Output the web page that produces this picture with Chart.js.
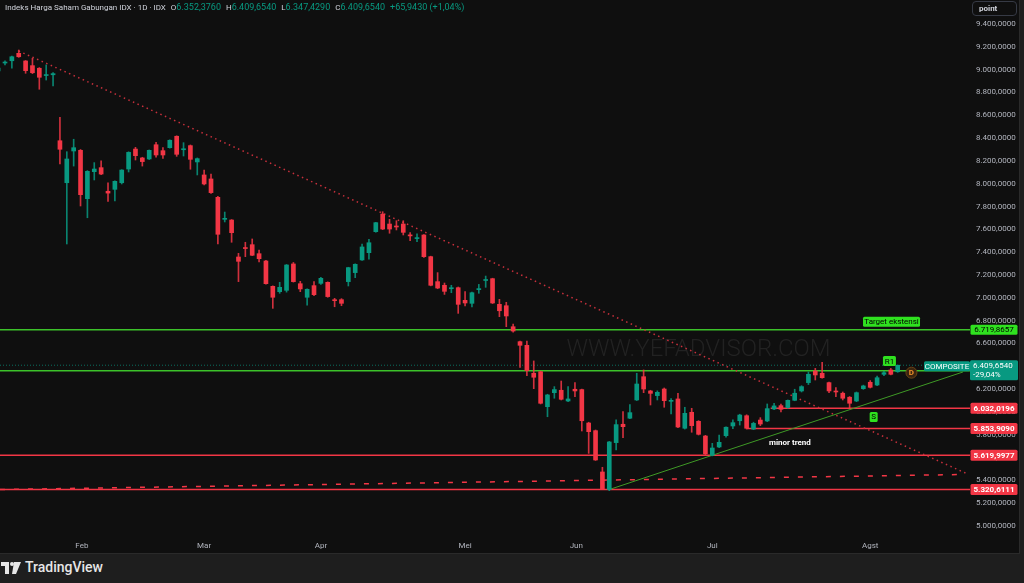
<!DOCTYPE html>
<html>
<head>
<meta charset="utf-8">
<title>IHSG 1D</title>
<script src="https://cdn.jsdelivr.net/npm/chart.js@4.4.0/dist/chart.umd.min.js"></script>
<style>
  html, body { margin: 0; padding: 0; background: #1e1e1e; width: 1024px; height: 583px; overflow: hidden; }
  body { font-family: Roboto, "Liberation Sans", sans-serif; }
  #pane { position: absolute; left: 0; top: 0; width: 1019px; height: 553px; background: #0f0f0f; border-right: 1px solid #2a2a2a; border-bottom: 1px solid #2a2a2a; }
  #chart { position: absolute; left: 0; top: 0; }
  #legend { position: absolute; left: 5px; top: 2px; font-size: 8px; color: #d1d4dc; white-space: nowrap; }
  #legend i { font-style: normal; margin-left: 5px; }
  #legend span { color: #089981; font-size: 9px; }
  #unit { position: absolute; left: 972px; top: 1px; width: 45px; height: 15px; border: 1px solid #363a45; border-radius: 4px; box-sizing: border-box;
          font-size: 8px; font-weight: bold; color: #d1d4dc; padding: 2px 0 0 6px; }
  #footer { position: absolute; left: 0; top: 554px; width: 1024px; height: 29px; background: #1e1e1e; }
  #brand { position: absolute; left: 25px; top: 5px; font-size: 14px; font-weight: 500; color: #e6e6e6; }
  #logo { position: absolute; left: 1px; top: 8px; }
</style>
</head>
<body>
<div id="pane">
  <canvas id="chart" width="1019" height="553"></canvas>
  <div id="legend">Indeks Harga Saham Gabungan IDX · 1D · IDX<i>O<span>6.352,3760</span></i><i>H<span>6.409,6540</span></i><i>L<span>6.347,4290</span></i><i>C<span>6.409,6540</span></i><i><span>+65,9430 (+1,04%)</span></i></div>
  <div id="unit">point</div>
</div>
<div id="footer">
  <svg id="logo" width="20" height="13" viewBox="0 0 20 13">
    <rect x="0" y="0" width="8" height="4" fill="#e6e6e6"/>
    <rect x="4" y="0" width="4" height="12" fill="#e6e6e6"/>
    <circle cx="11" cy="2" r="2" fill="#e6e6e6"/>
    <polygon points="13,0 20,0 15,12 11,12" fill="#e6e6e6"/>
  </svg>
  <div id="brand">TradingView</div>
</div>
<script>
// daily candles, first one is cut off on the left edge (index -1)
var opens  = [8988,9058,9078,9143,9076,9035,9012,8948,8955,8377,8009,8287,8293,7869,8106,8141,7934,7951,8009,8129,
              8304,8226,8217,8342,8290,8316,8416,8298,8334,8191,8077,8042,7881,7688,7682,7358,7436,7466,7387,7323,
              7101,7054,7066,7297,7124,7005,7107,7127,7136,6981,6984,7142,7221,7332,7396,7580,7734,7647,7627,7647,
              7548,7519,7551,7361,7142,7110,7080,7089,6978,6952,7072,7152,7168,6943,6931,6747,6616,6584,6339,6353,
              6046,6169,6190,6096,6199,6196,5903,5836,5474,5320,5731,5892,5945,6105,6309,6184,6143,6201,6093,6114,
              5857,5997,5918,5789,5620,5693,5792,5877,5923,5967,5850,5929,5921,6026,6055,6038,6102,6184,6257,6359,
              6339,6257,6180,6164,6129,6096,6204,6260,6236,6330,6368,6352.376];
var highs  = [9020,9078,9118,9172,9080,9099,9018,9041,8975,8582,8281,8390,8300,8115,8185,8200,8009,8025,8123,8280,
              8319,8232,8296,8363,8316,8385,8420,8360,8340,8226,8120,8085,7890,7752,7686,7390,7487,7516,7419,7328,
              7105,7136,7292,7310,7145,7080,7142,7180,7140,6996,6993,7268,7298,7472,7513,7662,7755,7688,7676,7676,
              7571,7560,7555,7365,7221,7130,7110,7095,7054,7050,7118,7191,7172,6987,6961,6770,6620,6622,6447,6358,
              6155,6222,6271,6222,6257,6200,5910,5842,5515,5742,5930,6003,6064,6339,6368,6190,6185,6210,6117,6164,
              6041,6032,5924,5795,5725,5798,5870,5930,5980,5975,5910,5950,6070,6075,6070,6105,6199,6230,6350,6382,
              6435,6262,6213,6175,6135,6175,6235,6275,6315,6355,6382,6409.654];
var lows   = [8980,9041,9012,9108,8968,8965,8828,8909,8857,8173,7472,8155,7805,7702,8033,8080,7846,7849,7998,8103,
              8208,8155,8212,8232,8223,8312,8240,8243,8127,8077,7990,7915,7472,7665,7487,7142,7361,7370,7314,7120,
              6908,7040,7050,7138,7054,6935,7020,7118,7005,6922,6931,7104,7177,7328,7338,7575,7598,7566,7595,7551,
              7501,7493,7355,7105,7080,7030,7045,6864,6929,6920,7040,7092,6950,6835,6747,6700,6391,6318,6204,6070,
              5958,6120,6105,6090,6134,5833,5637,5575,5320,5310,5667,5775,5940,6100,6169,6061,6105,6041,5982,5862,
              5850,5822,5798,5626,5615,5688,5780,5854,5885,5850,5845,5880,5915,6020,6000,6032,6098,6175,6240,6280,
              6295,6170,6134,6105,6032,6090,6198,6210,6230,6318,6325,6347.429];
var closes = [9014,9063,9113,9113,8991,8973,8933,8955,8965,8302,8217,8316,7904,8109,8129,8085,7918,8021,8120,8275,
              8246,8194,8293,8252,8252,8381,8258,8305,8214,8220,7998,7922,7557,7695,7571,7320,7432,7373,7343,7124,
              7005,7092,7288,7142,7078,7075,7028,7171,7011,6975,6952,7265,7294,7446,7483,7659,7603,7603,7621,7574,
              7543,7525,7361,7110,7086,7057,7086,6943,6955,7045,7078,7160,6955,6887,6841,6709,6584,6362,6304,6076,
              6149,6196,6111,6114,6184,5923,5827,5579,5325,5737,5889,5871,5994,6245,6201,6163,6172,6099,6099,5868,
              5988,5880,5804,5632,5684,5734,5866,5906,5973,5857,5900,5894,6029,6053,6023,6102,6164,6222,6330,6324,
              6300,6184,6175,6120,6076,6169,6228,6216,6300,6344,6330,6409.654];

var monthLabels = ['Feb', 'Mar', 'Apr', 'Mei', 'Jun', 'Jul', 'Agst'];
var monthPos    = [11.2, 29, 46, 67, 83.2, 103, 126];   // bar index under each label

var yTicks = [5000, 5200, 5400, 5600, 5800, 6000, 6200, 6400, 6600, 6800, 7000,
              7200, 7400, 7600, 7800, 8000, 8200, 8400, 8600, 8800, 9000, 9200, 9400];

// price levels drawn on the chart
var targetLevel = 6719.8657;
var resistLevel = 6360;
var lastPrice   = 6409.654;
var lastChange  = '-29,04%';
var redLevels   = [6032.0196, 5853.9090, 5619.9977, 5320.6111];
var redStarts   = [111.5, 108, -1, -1];                    // bar index where each line starts
var downTrend   = [[2.0, 9163], [140.2, 5456]];
var minorTrend  = [[88.1, 5322], [139.5, 6350]];
var dashedLine  = [[-0.73, 5320], [139.8, 5452]];

var UP = '#089981', DOWN = '#f23645';

function fmtId(v, d) {
    var s = v.toFixed(d).split('.');
    var whole = s[0].replace(/\B(?=(\d{3})+(?!\d))/g, '.');
    return d ? whole + ',' + s[1] : whole;
}

var bodies = [], wicks = [], colors = [], wickColors = [];
for (var k = 0; k < opens.length; k++) {
    bodies.push({ x: k - 1, y: [opens[k], closes[k]] });
    wicks.push({ x: k - 1, y: [lows[k], highs[k]] });
    var up = closes[k] >= opens[k];
    colors.push(up ? UP : DOWN);
    wickColors.push(up ? 'rgba(8,153,129,0.85)' : 'rgba(242,54,69,0.85)');
}

// little helper for the coloured boxes
function tag(ctx, cx, cy, w, h, fill, color, text, bold) {
    ctx.fillStyle = fill;
    ctx.beginPath();
    ctx.roundRect(cx - w / 2, cy - h / 2, w, h, 1.5);
    ctx.fill();
    ctx.fillStyle = color;
    ctx.font = (bold ? 'bold ' : '') + '8px Roboto, "Liberation Sans", sans-serif';
    ctx.textAlign = 'center';
    ctx.textBaseline = 'middle';
    ctx.fillText(text, cx, cy + 0.5);
}

function seg(ctx, x, y, p, q, color, width, dash) {
    ctx.save();
    ctx.strokeStyle = color;
    ctx.lineWidth = width;
    ctx.setLineDash(dash || []);
    ctx.beginPath();
    ctx.moveTo(x.getPixelForValue(p[0]), y.getPixelForValue(p[1]));
    ctx.lineTo(x.getPixelForValue(q[0]), y.getPixelForValue(q[1]));
    ctx.stroke();
    ctx.restore();
}

var drawings = {
    id: 'drawings',
    beforeDatasetsDraw: function (chart) {
        var ctx = chart.ctx, x = chart.scales.x, y = chart.scales.y, a = chart.chartArea;
        ctx.save();
        ctx.beginPath();
        ctx.rect(a.left, a.top, a.right - a.left, a.bottom - a.top);
        ctx.clip();
        // watermark
        ctx.fillStyle = '#222222';
        ctx.font = '300 24px Roboto, "Liberation Sans", sans-serif';
        ctx.textAlign = 'center';
        ctx.textBaseline = 'middle';
        ctx.fillText('WWW.YEFADVISOR.COM', x.getPixelForValue(101), y.getPixelForValue(6543));
        // last price dotted line
        seg(ctx, x, y, [x.min, lastPrice], [x.max, lastPrice], 'rgba(8,153,129,0.7)', 1, [1, 2]);
        // horizontal levels
        seg(ctx, x, y, [x.min, targetLevel], [x.max, targetLevel], '#3cc22a', 1.5);
        seg(ctx, x, y, [x.min, resistLevel], [x.max, resistLevel], '#3cc22a', 1.5);
        for (var i = 0; i < redLevels.length; i++) {
            seg(ctx, x, y, [redStarts[i] < 0 ? x.min : redStarts[i], redLevels[i]], [x.max, redLevels[i]], DOWN, 1.5);
        }
        seg(ctx, x, y, dashedLine[0], dashedLine[1], DOWN, 1.5, [5, 9]);
        seg(ctx, x, y, downTrend[0], downTrend[1], '#c8303c', 1.5, [1.5, 3.5]);
        seg(ctx, x, y, minorTrend[0], minorTrend[1], '#3f9a26', 1);
        ctx.restore();
    },
    afterDraw: function (chart) {
        var ctx = chart.ctx, x = chart.scales.x, y = chart.scales.y, a = chart.chartArea;
        ctx.save();
        // text labels on the chart
        tag(ctx, x.getPixelForValue(129.1), y.getPixelForValue(6791), 57, 10, '#2fe11f', '#000', 'Target ekstensi', false);
        tag(ctx, x.getPixelForValue(128.8), y.getPixelForValue(6446), 13, 10, '#2fe11f', '#000', 'R1', false);
        tag(ctx, x.getPixelForValue(126.5), y.getPixelForValue(5956), 8, 10, '#2fe11f', '#000', 'S', false);
        // D marker
        var dx = x.getPixelForValue(132), dy = y.getPixelForValue(6344);
        ctx.fillStyle = '#3a2410';
        ctx.strokeStyle = '#6b4416';
        ctx.lineWidth = 1;
        ctx.beginPath(); ctx.arc(dx, dy, 5.5, 0, Math.PI * 2); ctx.fill(); ctx.stroke();
        ctx.fillStyle = '#f0902a';
        ctx.font = 'bold 8px Roboto, sans-serif';
        ctx.textAlign = 'center'; ctx.textBaseline = 'middle';
        ctx.fillText('D', dx, dy + 0.5);
        ctx.fillStyle = '#ffffff';
        ctx.font = 'bold 8px Roboto, "Liberation Sans", sans-serif';
        ctx.fillText('minor trend', x.getPixelForValue(114.3), y.getPixelForValue(5732));
        // composite label next to the axis
        var py = y.getPixelForValue(lastPrice);
        tag(ctx, a.right - 23, py + 1, 46, 10, UP, '#fff', 'COMPOSITE', false);

        // price axis boxes
        var bx = a.right + 24;
        tag(ctx, bx, y.getPixelForValue(targetLevel), 47, 10, '#2fe11f', '#000', fmtId(targetLevel, 4), false);
        ctx.fillStyle = UP;
        ctx.beginPath(); ctx.roundRect(a.right, py - 5, 48, 20, 1.5); ctx.fill();
        ctx.fillStyle = '#fff';
        ctx.font = '8px Roboto, "Liberation Sans", sans-serif';
        ctx.textAlign = 'left';
        ctx.fillText(fmtId(lastPrice, 4), a.right + 3, py + 0.5);
        ctx.fillText(lastChange, a.right + 3, py + 9.5);
        for (var i = 0; i < redLevels.length; i++) {
            tag(ctx, bx, y.getPixelForValue(redLevels[i]), 47, 11, DOWN, '#fff', fmtId(redLevels[i], 4), true);
        }
        ctx.restore();
    }
};

var ctx = document.getElementById('chart');
var chart = new Chart(ctx, {
    type: 'bar',
    data: {
        datasets: [
            { label: 'body', data: bodies, backgroundColor: colors, barThickness: 4, minBarLength: 1,
              grouped: false, order: 1, borderWidth: 0 },
            { label: 'wick', data: wicks, backgroundColor: wickColors, barThickness: 1,
              grouped: false, order: 2, borderWidth: 0 }
        ]
    },
    options: {
        responsive: false,
        animation: false,
        layout: { padding: 0 },
        plugins: { legend: { display: false }, tooltip: { enabled: false } },
        scales: {
            x: {
                type: 'linear',
                min: -0.728, max: 140.53,
                offset: false,
                grid: { display: false, drawTicks: false },
                border: { display: false },
                ticks: {
                    autoSkip: false, maxRotation: 0, padding: 8,
                    color: '#b2b5be', font: { size: 8, family: 'Roboto, "Liberation Sans", sans-serif' },
                    callback: function (v) {
                        var i = monthPos.indexOf(v);
                        return i >= 0 ? monthLabels[i] : '';
                    }
                },
                afterBuildTicks: function (s) { s.ticks = monthPos.map(function (v) { return { value: v }; }); },
                afterFit: function (s) { s.height = 20; s.paddingLeft = 0; s.paddingRight = 0; }
            },
            y: {
                position: 'right',
                min: 4939.1, max: 9610.3,
                grid: { display: false, drawTicks: false },
                border: { display: false },
                ticks: {
                    padding: 6,
                    color: '#b2b5be', font: { size: 8, family: 'Roboto, "Liberation Sans", sans-serif' },
                    callback: function (v) { return fmtId(v, 4); }
                },
                afterBuildTicks: function (s) { s.ticks = yTicks.map(function (v) { return { value: v }; }); },
                afterFit: function (s) { s.width = 49; s.paddingTop = 0; s.paddingBottom = 0; }
            }
        }
    },
    plugins: [drawings]
});
</script>
</body>
</html>
